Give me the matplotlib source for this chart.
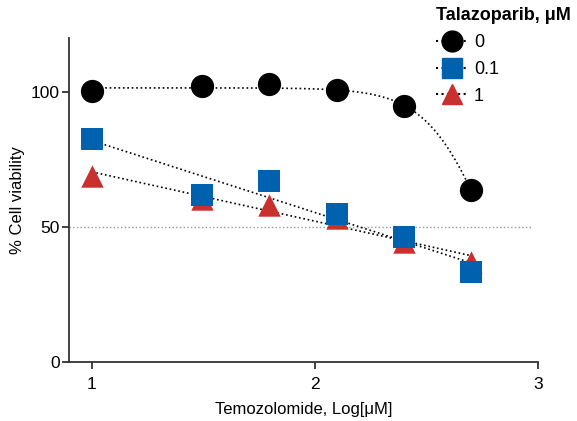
import numpy as np
import matplotlib.pyplot as plt
from matplotlib.lines import Line2D

plt.rcParams['font.family'] = ['Liberation Sans', 'DejaVu Sans']

# Temozolomide doses, log10[uM]
log_tmz = np.log10([10, 31.25, 62.5, 125, 250, 500])

# % cell viability for each talazoparib concentration
via_0 = [100.3, 102.2, 103.0, 100.8, 94.8, 63.7]
via_01 = [82.6, 61.9, 67.0, 54.8, 46.3, 33.3]
via_1 = [69.0, 60.4, 58.0, 53.3, 44.4, 37.2]

# dose-response fit for the 0 uM series (top, bottom, logIC50, hill)
top, bottom, log_ic50, hill = 101.5, 0.0, 2.772, 3.13

blue = '#0062ae'
red = '#c8312e'

fig = plt.figure(figsize=(5.77, 4.21), dpi=100)
ax = fig.add_axes([0.1196, 0.140, 0.8128, 0.770])

xs = np.linspace(log_tmz[0], log_tmz[-1], 200)

# fitted curves
ax.plot(xs, bottom + (top - bottom) / (1 + 10 ** ((xs - log_ic50) * hill)),
        ls=':', color='black', lw=1.2, zorder=2)
for v in (via_01, via_1):
    k, b = np.polyfit(log_tmz, v, 1)
    ax.plot(xs, k * xs + b, ls=':', color='black', lw=1.2, zorder=2)

ax.axhline(50, color='#999999', ls=':', lw=1, zorder=1, xmax=0.985)

ax.scatter(log_tmz, via_1, marker='^', s=260, color=red, zorder=3, linewidths=0)
ax.scatter(log_tmz, via_01, marker='s', s=230, color=blue, zorder=4, linewidths=0)
ax.scatter(log_tmz, via_0, marker='o', s=280, color='black', zorder=5, linewidths=0)

ax.set_xlim(0.897, 3.0)
ax.set_ylim(0, 120)
ax.set_xticks([1, 2, 3])
ax.set_yticks([0, 50, 100])
ax.spines['top'].set_visible(False)
ax.spines['right'].set_visible(False)
for s in ('left', 'bottom'):
    ax.spines[s].set_color('#333333')
    ax.spines[s].set_linewidth(1.3)
ax.tick_params(direction='out', length=5, width=1.3, color='#333333',
               labelsize=12.5, pad=1.5)
ax.tick_params(axis='x', pad=6)
ax.set_xlabel('Temozolomide, Log[μM]', fontsize=12, labelpad=7)
ax.set_ylabel('% Cell viability', fontsize=12, labelpad=4)

handles = [
    Line2D([], [], ls=':', color='black', marker='o', markersize=15, label='0'),
    Line2D([], [], ls=':', color='black', marker='s', markersize=14,
           markerfacecolor=blue, markeredgecolor=blue, label='0.1'),
    Line2D([], [], ls=':', color='black', marker='^', markersize=15,
           markerfacecolor=red, markeredgecolor=red, label='1'),
]
leg = fig.legend(handles=handles, title='Talazoparib, μM', loc='upper left',
                 bbox_to_anchor=(436 / 577, 1 - 7 / 421), frameon=False,
                 fontsize=13, borderpad=0, borderaxespad=0,
                 title_fontproperties={'weight': 'bold', 'size': 13},
                 handlelength=1.75, labelspacing=0.55, handletextpad=0.35,
                 alignment='left')

fig.savefig('out.png', dpi=100)
